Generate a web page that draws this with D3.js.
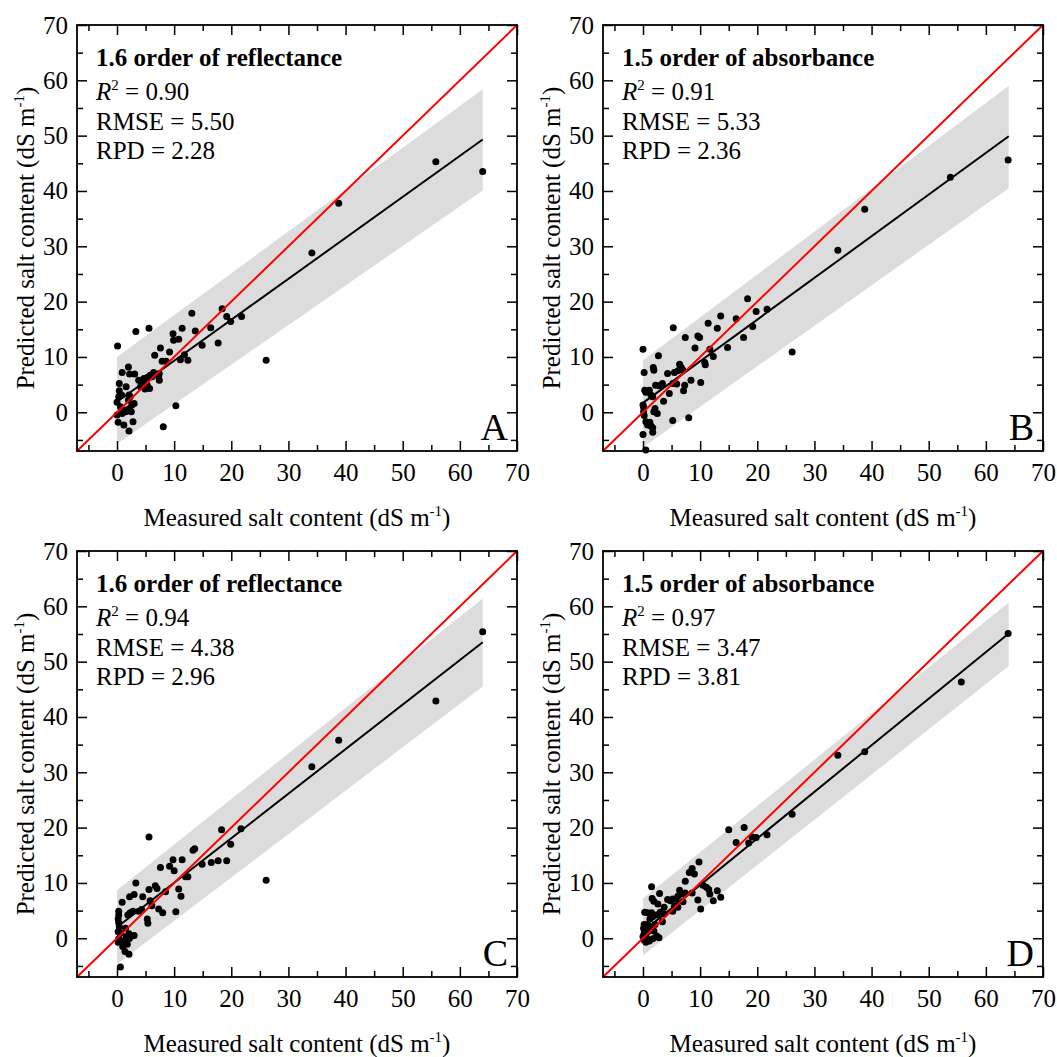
<!DOCTYPE html>
<html>
<head>
<meta charset="utf-8">
<script src="https://cdn.jsdelivr.net/npm/d3@7"></script>
<style>
  body { margin: 0; background: #fff; }
  svg { display: block; }
  svg text { font-family: "Liberation Serif", "Times New Roman", serif; fill: #000; }
</style>
</head>
<body>
<svg id="chart" width="1057" height="1057"></svg>
<script>
// measured vs predicted salt content, one array per panel
var pointsA = [[0.1,12.0],[3.3,14.6],[5.6,15.2],[13.1,17.9],[18.4,18.7],[19.2,17.3],[21.8,17.3],[19.9,16.4],[16.4,15.3],[13.7,14.7],[11.4,15.2],[9.8,14.2],[9.9,13.0],[10.8,13.2],[14.9,12.1],[17.7,12.5],[7.6,11.6],[6.6,10.3],[9.2,10.9],[11.1,9.5],[12.4,9.4],[11.8,10.4],[7.9,9.2],[8.6,9.2],[7.4,7.0],[6.4,7.2],[5.8,6.7],[5.3,6.3],[4.7,6.1],[4.3,5.4],[3.8,5.8],[6.1,6.4],[7.3,6.4],[7.4,5.8],[4.1,4.6],[4.9,4.2],[5.7,4.3],[5.3,4.9],[0.9,7.2],[2.0,8.2],[2.2,6.9],[3.1,6.9],[0.4,5.2],[1.6,4.6],[0.4,3.9],[0.3,2.8],[0.8,3.1],[2.1,3.1],[0.0,1.8],[0.6,1.0],[0.0,-0.5],[0.2,-1.8],[1.2,-2.3],[2.1,-3.4],[2.8,-1.7],[1.5,0.1],[2.2,0.7],[2.6,1.3],[2.0,2.2],[2.3,2.8],[3.0,1.6],[2.5,0.1],[1.6,0.4],[0.9,-0.2],[10.3,1.2],[8.1,-2.6],[26.1,9.4],[34.1,28.8],[38.8,37.8],[55.8,45.3],[64.0,43.5]];
var pointsB = [[0.0,11.4],[5.3,15.3],[2.7,10.2],[0.2,7.2],[1.8,8.1],[1.9,7.6],[4.3,7.0],[5.5,7.2],[6.4,8.7],[6.7,8.1],[6.1,7.5],[7.0,7.6],[7.4,13.5],[9.6,13.8],[9.9,13.5],[9.1,11.6],[11.4,16.1],[13.6,17.4],[13.0,15.2],[16.3,16.9],[18.3,20.5],[19.8,18.2],[21.7,18.6],[19.2,15.5],[17.6,13.5],[14.8,11.7],[11.7,11.4],[12.3,10.1],[10.8,9.0],[10.9,8.6],[10.1,5.4],[8.4,5.8],[7.3,4.9],[7.1,3.9],[5.9,5.1],[5.2,5.2],[4.6,3.4],[3.6,2.0],[3.4,5.2],[2.2,4.9],[2.8,4.8],[0.3,4.0],[0.5,3.6],[1.1,4.0],[1.4,3.1],[1.7,2.8],[0.0,1.3],[0.1,0.9],[2.1,0.7],[1.9,0.1],[2.5,-0.2],[0.1,0.1],[0.2,-0.6],[0.5,-1.7],[0.8,-2.3],[1.4,-2.5],[1.7,-2.8],[1.2,-1.8],[0.0,-4.0],[1.7,-3.6],[5.2,-1.5],[8.0,-1.0],[0.5,-6.8],[26.1,10.9],[34.1,29.3],[38.8,36.7],[53.8,42.5],[63.9,45.6]];
var pointsC = [[5.6,18.3],[18.3,19.6],[21.7,19.8],[19.9,17.0],[13.6,16.2],[13.3,15.9],[9.8,14.2],[11.4,14.2],[9.2,13.0],[10.0,12.2],[7.6,12.8],[14.9,13.4],[16.5,13.7],[17.7,14.0],[19.2,14.0],[12.4,11.1],[12.0,11.1],[10.8,8.9],[11.2,7.6],[10.3,4.8],[8.5,8.4],[6.7,9.5],[7.0,9.0],[5.6,8.8],[3.3,10.0],[4.5,7.5],[3.0,7.9],[2.2,7.5],[0.9,6.5],[5.8,6.8],[6.1,5.9],[7.3,5.3],[8.0,4.6],[5.3,3.5],[5.4,2.7],[4.3,5.2],[3.8,4.9],[2.8,4.9],[2.3,4.6],[1.9,4.2],[0.3,4.9],[0.3,4.2],[0.2,3.5],[0.3,2.8],[0.4,2.1],[0.2,1.2],[0.6,0.9],[1.5,1.8],[2.1,0.8],[3.0,0.5],[2.3,0.2],[1.6,0.3],[0.3,-0.1],[1.2,-0.5],[2.1,-0.1],[0.2,-0.7],[1.0,-1.5],[1.4,-2.4],[2.1,-2.9],[0.6,-5.2],[1.8,-1.1],[26.1,10.5],[34.1,31.0],[38.8,35.8],[55.8,42.9],[64.0,55.4]];
var pointsD = [[15.0,19.6],[17.7,20.0],[16.3,17.3],[18.5,17.2],[19.1,18.3],[19.8,18.2],[21.7,18.7],[9.8,13.8],[8.6,12.6],[8.1,11.9],[9.0,11.6],[7.4,10.3],[1.5,9.3],[2.9,8.1],[1.6,7.2],[1.9,6.7],[2.6,6.2],[0.3,4.7],[0.8,4.6],[1.5,4.6],[3.7,5.6],[4.3,7.0],[4.8,6.8],[5.2,7.1],[5.8,7.0],[6.4,8.7],[6.7,8.0],[6.1,7.6],[7.0,6.6],[7.4,8.2],[8.6,8.2],[10.5,9.6],[11.1,9.2],[11.5,8.8],[13.0,8.6],[11.7,8.0],[12.3,6.8],[13.6,7.4],[9.6,6.9],[10.1,5.3],[5.5,5.8],[5.2,4.9],[3.7,4.4],[3.0,4.7],[2.4,4.2],[1.7,3.9],[1.2,3.5],[0.8,2.5],[0.2,2.5],[0.1,1.8],[0.5,1.5],[1.4,2.0],[2.1,2.5],[2.4,0.4],[1.9,1.3],[0.2,0.9],[0.0,0.3],[0.6,0.1],[0.2,-0.3],[1.1,-0.5],[0.5,-0.7],[1.7,-0.1],[0.8,1.2],[3.4,3.0],[6.1,5.6],[2.8,0.1],[26.1,22.4],[34.1,33.1],[38.8,33.7],[55.7,46.3],[63.9,55.1]];

// fitted line ends [x, y] and band [x, upper, lower]
var fitA = [[0,1.9],[64,49.3]], bandA = [[0,10.0,-5.7],[64,58.4,40.1]];
var fitB = [[0,1.7],[64,49.9]], bandB = [[0,9.4,-6.3],[64,59.0,40.5]];
var fitC = [[0,2.0],[64,53.5]], bandC = [[0,8.7,-4.7],[64,61.4,45.5]];
var fitD = [[0,1.2],[64,55.1]], bandD = [[0,7.2,-3.1],[64,60.7,49.2]];

var titles = ["1.6 order of reflectance", "1.5 order of absorbance", "1.6 order of reflectance", "1.5 order of absorbance"];
var r2 = ["0.90", "0.91", "0.94", "0.97"];
var rmse = ["5.50", "5.33", "4.38", "3.47"];
var rpd = ["2.28", "2.36", "2.96", "3.81"];
var letters = ["A", "B", "C", "D"];

var majorTicks = [0, 10, 20, 30, 40, 50, 60, 70];
var minorTicks = [-5, 5, 15, 25, 35, 45, 55, 65];
var domain = [-7, 70];

var panels = [
  {pts: pointsA, fit: fitA, band: bandA, left: 77, top: 25},
  {pts: pointsB, fit: fitB, band: bandB, left: 603, top: 25},
  {pts: pointsC, fit: fitC, band: bandC, left: 77, top: 551},
  {pts: pointsD, fit: fitD, band: bandD, left: 603, top: 551}
];

var FONT = "'Liberation Serif','Times New Roman',serif";
var width = 440, height = 426;
var svg = d3.select("#chart");

panels.forEach(function(p, i) {
  var g = svg.append("g").attr("transform", "translate(" + p.left + "," + p.top + ")");
  var x = d3.scaleLinear().domain(domain).range([0, width]);
  var y = d3.scaleLinear().domain(domain).range([height, 0]);

  // band
  var area = d3.area()
    .x(function(d) { return x(d[0]); })
    .y0(function(d) { return y(d[2]); })
    .y1(function(d) { return y(d[1]); });
  g.append("path").datum(p.band).attr("d", area).attr("fill", "#dcdcdc");

  // points
  g.selectAll(".pt").data(p.pts).enter().append("circle")
    .attr("class", "pt")
    .attr("cx", function(d) { return x(d[0]); })
    .attr("cy", function(d) { return y(d[1]); })
    .attr("r", 3.5)
    .attr("fill", "#000");

  var line = d3.line().x(function(d) { return x(d[0]); }).y(function(d) { return y(d[1]); });
  g.append("path").datum(p.fit).attr("d", line)
    .attr("stroke", "#000").attr("stroke-width", 2).attr("fill", "none");
  g.append("path").datum([[domain[0], domain[0]], [domain[1], domain[1]]]).attr("d", line)
    .attr("stroke", "#f00").attr("stroke-width", 2).attr("fill", "none");

  // axes, ticks pointing inward on all sides
  function addAxis(axis, tr, labels) {
    var a = g.append("g").attr("transform", tr).call(axis)
      .attr("font-family", FONT).attr("font-size", 25);
    a.select(".domain").remove();
    a.selectAll("line").attr("stroke-width", 1.5);
    if (!labels) a.selectAll("text").remove();
    return a;
  }
  addAxis(d3.axisBottom(x).tickValues(majorTicks).tickSize(-10).tickPadding(12).tickFormat(d3.format("d")), "translate(0," + height + ")", true);
  addAxis(d3.axisBottom(x).tickValues(minorTicks).tickSize(-6).tickFormat(""), "translate(0," + height + ")", false);
  addAxis(d3.axisTop(x).tickValues(majorTicks).tickSize(-10).tickFormat(""), "translate(0,0)", false);
  addAxis(d3.axisTop(x).tickValues(minorTicks).tickSize(-6).tickFormat(""), "translate(0,0)", false);
  addAxis(d3.axisLeft(y).tickValues(majorTicks).tickSize(-10).tickPadding(9).tickFormat(d3.format("d")), "translate(0,0)", true);
  addAxis(d3.axisLeft(y).tickValues(minorTicks).tickSize(-6).tickFormat(""), "translate(0,0)", false);
  addAxis(d3.axisRight(y).tickValues(majorTicks).tickSize(-10).tickFormat(""), "translate(" + width + ",0)", false);
  addAxis(d3.axisRight(y).tickValues(minorTicks).tickSize(-6).tickFormat(""), "translate(" + width + ",0)", false);

  g.append("rect").attr("width", width).attr("height", height)
    .attr("fill", "none").attr("stroke", "#000").attr("stroke-width", 1.8);

  // annotations
  g.append("text").attr("x", 19).attr("y", 41)
    .style("font-size", "25px").style("font-weight", "bold").text(titles[i]);
  var t1 = g.append("text").attr("x", 19).attr("y", 75).style("font-size", "25px");
  t1.append("tspan").style("font-style", "italic").text("R");
  t1.append("tspan").attr("dy", -10).style("font-size", "15px").text("2");
  t1.append("tspan").attr("dy", 10).text(" = " + r2[i]);
  g.append("text").attr("x", 19).attr("y", 105).style("font-size", "25px").text("RMSE = " + rmse[i]);
  g.append("text").attr("x", 19).attr("y", 134).style("font-size", "25px").text("RPD = " + rpd[i]);
  g.append("text").attr("x", width - 9).attr("y", height - 11)
    .attr("text-anchor", "end").style("font-size", "38px").text(letters[i]);

  // axis titles
  var xt = g.append("text").attr("x", width / 2).attr("y", height + 75)
    .attr("text-anchor", "middle").style("font-size", "25px");
  xt.append("tspan").text("Measured salt content (dS m");
  xt.append("tspan").attr("dy", -10).style("font-size", "15px").text("-1");
  xt.append("tspan").attr("dy", 10).text(")");

  var yt = g.append("text")
    .attr("transform", "translate(-43," + (height / 2) + ") rotate(-90)")
    .attr("text-anchor", "middle").style("font-size", "25px");
  yt.append("tspan").text("Predicted salt content (dS m");
  yt.append("tspan").attr("dy", -10).style("font-size", "15px").text("-1");
  yt.append("tspan").attr("dy", 10).text(")");
});
</script>
</body>
</html>
